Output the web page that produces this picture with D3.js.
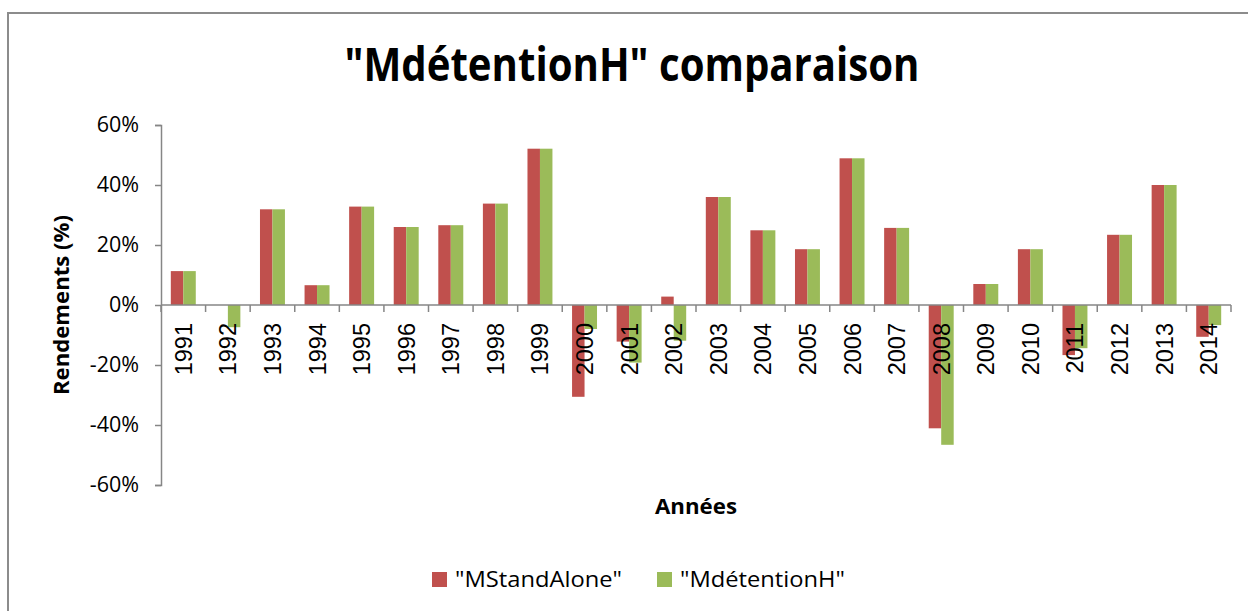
<!DOCTYPE html>
<html>
<head>
<meta charset="utf-8">
<script src="https://cdn.jsdelivr.net/npm/d3@7"></script>
<style>
  html, body { margin: 0; padding: 0; background: #fff; }
  svg { display: block; }
</style>
</head>
<body>
<svg id="chart" width="1248" height="611"></svg>
<script>
const years = ["1991","1992","1993","1994","1995","1996","1997","1998","1999","2000","2001","2002","2003","2004","2005","2006","2007","2008","2009","2010","2011","2012","2013","2014"];
const seriesNames = ["\"MStandAlone\"", "\"MdétentionH\""];
const mStandAlone = [11.3, 0, 31.9, 6.6, 32.8, 26.0, 26.6, 33.8, 52.1, -30.6, -12.2, 2.8, 36.0, 24.9, 18.6, 48.9, 25.7, -41.1, 7.0, 18.6, -16.7, 23.4, 40.0, -10.6];
const mDetentionH = [11.3, -7.4, 31.9, 6.6, 32.8, 26.0, 26.6, 33.8, 52.1, -8.0, -19.2, -11.9, 36.0, 24.9, 18.6, 48.9, 25.7, -46.6, 7.0, 18.6, -14.4, 23.4, 40.0, -6.7];
const yTicks = [-60, -40, -20, 0, 20, 40, 60];
const colors = ["#C0504D", "#9BBB59"];

(function () {
const svg = d3.select("#chart");
const axisColor = "#868686";

// outer chart border
svg.append("rect").attr("x", 8).attr("y", 13).attr("width", 1260).attr("height", 620)
  .attr("fill", "none").attr("stroke", "#8c8c8c").attr("stroke-width", 2);

const pLeft = 161, pRight = 1231, pTop = 125, pBottom = 485;
const y = d3.scaleLinear().domain([-60, 60]).range([pBottom, pTop]);
const x0 = d3.scaleBand().domain(years).range([pLeft, pRight]).paddingInner(0.44).paddingOuter(0.22);
const x1 = d3.scaleBand().domain([0, 1]).range([0, x0.bandwidth()]);

const data = years.map((yr, i) => ({ yr, vals: [mStandAlone[i], mDetentionH[i]] }));

// bars
const g = svg.append("g");
data.forEach(d => {
  d.vals.forEach((v, s) => {
    g.append("rect")
      .attr("x", x0(d.yr) + x1(s))
      .attr("width", x1.bandwidth())
      .attr("y", y(Math.max(0, v)))
      .attr("height", Math.abs(y(v) - y(0)))
      .attr("fill", colors[s]);
  });
});

// y axis
const yAxis = d3.axisLeft(y).tickValues(yTicks).tickFormat(d => d + "%").tickSize(6).tickPadding(16);
const ya = svg.append("g").attr("transform", `translate(${pLeft},0)`).call(yAxis);
ya.select(".domain").attr("stroke", axisColor).attr("stroke-width", 1.5);
ya.selectAll(".tick line").attr("stroke", axisColor).attr("stroke-width", 1.5);
ya.selectAll(".tick text").attr("font-family", "'Open Sans', sans-serif").attr("font-size", 21.5).attr("fill", "#000");

// x axis line at 0 with ticks at band boundaries
const xa = svg.append("g");
xa.append("line").attr("x1", pLeft).attr("x2", pRight).attr("y1", y(0)).attr("y2", y(0))
  .attr("stroke", axisColor).attr("stroke-width", 1.5);
const step = x0.step();
d3.range(years.length + 1).forEach(i => {
  const xx = pLeft + i * step;
  xa.append("line").attr("x1", xx).attr("x2", xx).attr("y1", y(0)).attr("y2", y(0) + 7)
    .attr("stroke", axisColor).attr("stroke-width", 1.5);
});
// x tick labels (rotated)
years.forEach(yr => {
  const cx = x0(yr) + x0.bandwidth() / 2;
  xa.append("text")
    .attr("transform", `translate(${cx + 8.5},${y(0) + 18}) rotate(-90)`)
    .attr("text-anchor", "end")
    .attr("font-family", "'Liberation Sans', Arial, sans-serif")
    .attr("font-size", 23.5)
    .attr("fill", "#000")
    .text(yr);
});

// title
svg.append("text").attr("x", 632).attr("y", 81).attr("text-anchor", "middle")
  .attr("font-family", "'Open Sans', sans-serif").attr("font-weight", "bold").attr("font-size", 47)
  .attr("textLength", 575).attr("lengthAdjust", "spacingAndGlyphs")
  .text("\"MdétentionH\" comparaison");

// y axis title
svg.append("text").attr("transform", `translate(69,305) rotate(-90)`).attr("text-anchor", "middle")
  .attr("font-family", "'Open Sans', sans-serif").attr("font-weight", "bold").attr("font-size", 22)
  .attr("textLength", 180).attr("lengthAdjust", "spacingAndGlyphs")
  .text("Rendements (%)");

// x axis title
svg.append("text").attr("x", 696).attr("y", 514).attr("text-anchor", "middle")
  .attr("font-family", "'Open Sans', sans-serif").attr("font-weight", "bold").attr("font-size", 22)
  .attr("textLength", 82).attr("lengthAdjust", "spacingAndGlyphs")
  .text("Années");

// legend
const legendX = [432, 657];
const legendW = [167, 165];
seriesNames.forEach((name, i) => {
  svg.append("rect").attr("x", legendX[i]).attr("y", 572).attr("width", 15).attr("height", 15).attr("fill", colors[i]);
  svg.append("text").attr("x", legendX[i] + 23).attr("y", 587)
    .attr("font-family", "'Open Sans', sans-serif").attr("font-size", 22)
    .attr("textLength", legendW[i]).attr("lengthAdjust", "spacingAndGlyphs")
    .text(name);
});
})();
</script>
</body>
</html>
